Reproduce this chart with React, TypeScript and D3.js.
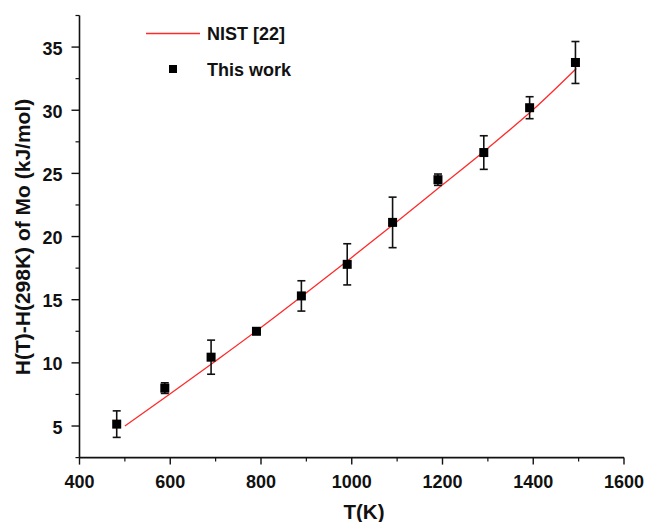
import React from "react";
import * as d3 from "d3";

const nistT = [500, 600, 700, 800, 900, 1000, 1100, 1200, 1300, 1400, 1495];
const nistH = [5.0, 7.55, 10.15, 12.8, 15.55, 18.35, 21.2, 24.1, 27.0, 30.05, 33.3];

const workT = [482, 588, 690, 790, 889, 990, 1090, 1190, 1291, 1392, 1493];
const workH = [5.15, 8.0, 10.45, 12.5, 15.3, 17.8, 21.12, 24.5, 26.65, 30.2, 33.78];
const workErr = [1.05, 0.42, 1.35, 0.2, 1.2, 1.63, 2.0, 0.45, 1.33, 0.87, 1.66];

const xTicks = [400, 600, 800, 1000, 1200, 1400, 1600];
const xMinor = [500, 700, 900, 1100, 1300, 1500];
const yTicks = [5, 10, 15, 20, 25, 30, 35];
const yMinor = [2.5, 7.5, 12.5, 17.5, 22.5, 27.5, 32.5, 37.5];

const legendLabels = ["NIST [22]", "This work"];
const xTitle = "T(K)";
const yTitle = "H(T)-H(298K) of Mo (kJ/mol)";

const W = 648;
const H = 522;
const FONT = "'Liberation Sans', Arial, Helvetica, sans-serif";

export default function App() {
  const x = d3.scaleLinear().domain([400, 1600]).range([79.5, 624]);
  const y = d3.scaleLinear().domain([2.5, 37.5]).range([457.6, 15.5]);
  const line = d3
    .line<number>()
    .x((_, i) => x(nistT[i]))
    .y((d) => y(d))
    .curve(d3.curveMonotoneX);
  const ms = 9;
  const cap = 4;
  return (
    <svg
      width={W}
      height={H}
      style={{ position: "absolute", left: 0, top: 0, background: "#fff" }}
      fontFamily={FONT}
    >
      <rect x={0} y={0} width={W} height={H} fill="#fff" />
      {/* axes */}
      <line x1={x(400)} x2={x(1600)} y1={y(2.5)} y2={y(2.5)} stroke="#111" strokeWidth={1.6} />
      <line x1={x(400)} x2={x(400)} y1={y(2.5)} y2={y(37.5)} stroke="#111" strokeWidth={1.6} />
      {xTicks.map((t) => (
        <g key={"xt" + t}>
          <line x1={x(t)} x2={x(t)} y1={y(2.5)} y2={y(2.5) + 7} stroke="#111" strokeWidth={1.4} />
          <text x={x(t)} y={487.5} textAnchor="middle" fontSize={18} fontWeight="bold" fill="#111">
            {t}
          </text>
        </g>
      ))}
      {xMinor.map((t) => (
        <line key={"xm" + t} x1={x(t)} x2={x(t)} y1={y(2.5)} y2={y(2.5) + 4} stroke="#111" strokeWidth={1.2} />
      ))}
      {yTicks.map((t) => (
        <g key={"yt" + t}>
          <line x1={x(400) - 8} x2={x(400)} y1={y(t)} y2={y(t)} stroke="#111" strokeWidth={1.4} />
          <text x={x(400) - 17} y={y(t) + 7.5} textAnchor="end" fontSize={18} fontWeight="bold" fill="#111">
            {t}
          </text>
        </g>
      ))}
      {yMinor.map((t) => (
        <line key={"ym" + t} x1={x(400) - 4} x2={x(400)} y1={y(t)} y2={y(t)} stroke="#111" strokeWidth={1.2} />
      ))}
      <text x={364} y={518.5} textAnchor="middle" fontSize={20.5} fontWeight="bold" fill="#111">
        {xTitle}
      </text>
      <text
        transform={`translate(30,237) rotate(-90)`}
        textAnchor="middle"
        fontSize={21}
        fontWeight="bold"
        fill="#111"
      >
        {yTitle}
      </text>
      {/* NIST line */}
      <path d={line(nistH) || ""} fill="none" stroke="#ff2a2a" strokeWidth={1.3} />
      {/* error bars & markers */}
      {workT.map((t, i) => {
        const cx = x(t);
        const top = y(workH[i] + workErr[i]);
        const bot = y(workH[i] - workErr[i]);
        return (
          <g key={"p" + i} stroke="#111" strokeWidth={1.6}>
            <line x1={cx} x2={cx} y1={top} y2={bot} />
            <line x1={cx - cap} x2={cx + cap} y1={top} y2={top} />
            <line x1={cx - cap} x2={cx + cap} y1={bot} y2={bot} />
            <rect x={cx - ms / 2} y={y(workH[i]) - ms / 2} width={ms} height={ms} fill="#000" stroke="none" />
          </g>
        );
      })}
      {/* legend */}
      <line x1={146} x2={200} y1={33.5} y2={33.5} stroke="#ff2a2a" strokeWidth={1.3} />
      <text x={207} y={40} fontSize={18} fontWeight="bold" fill="#111">
        {legendLabels[0]}
      </text>
      <rect x={173 - 4} y={69 - 4} width={8} height={8} fill="#000" />
      <text x={207} y={76} fontSize={18} fontWeight="bold" fill="#111">
        {legendLabels[1]}
      </text>
    </svg>
  );
}
